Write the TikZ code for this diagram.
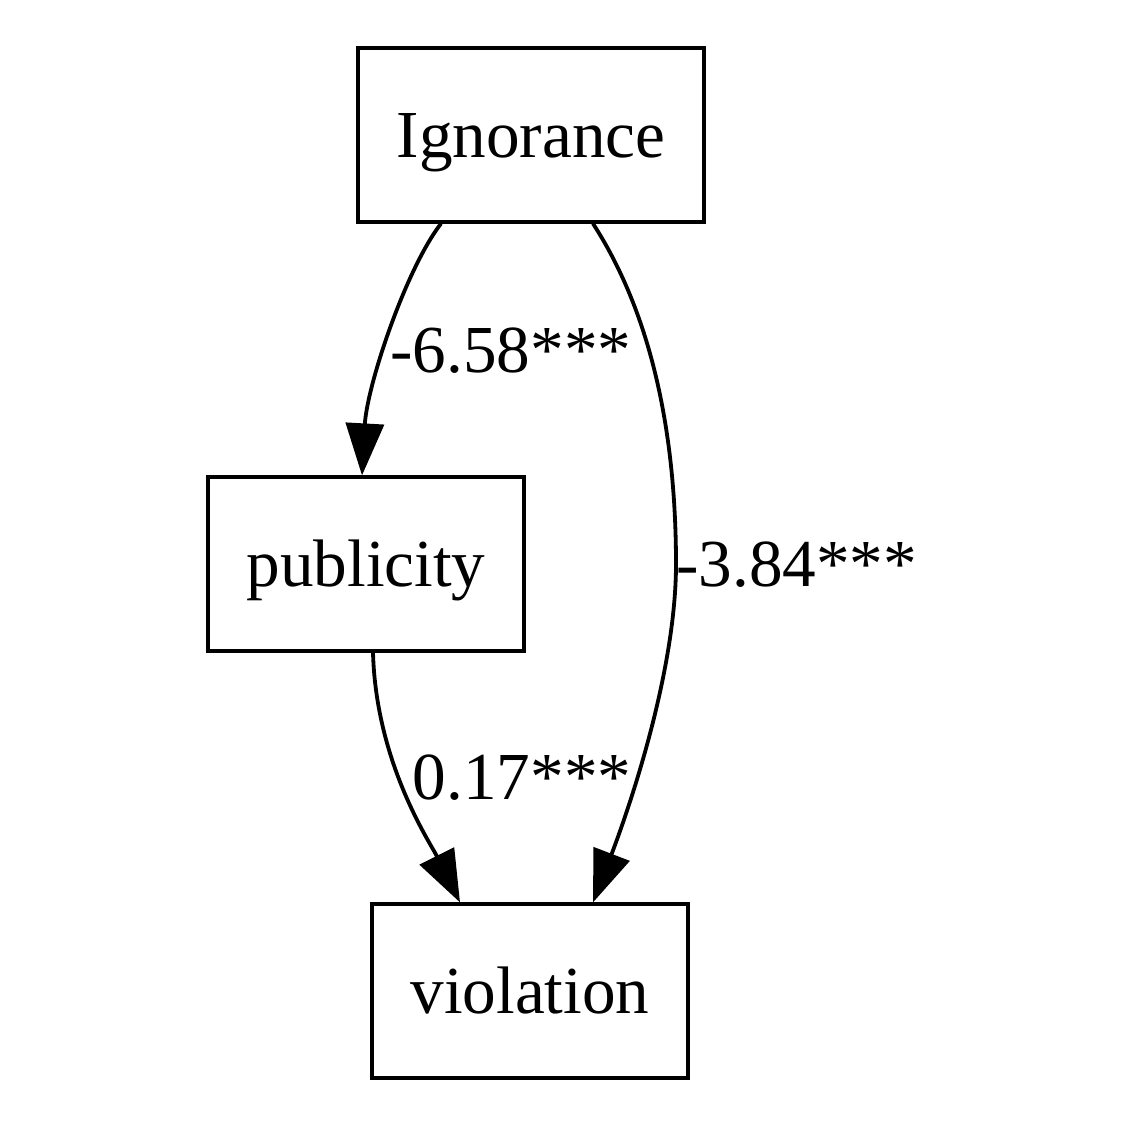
\documentclass[tikz,border=0pt]{standalone}
\usepackage{fontspec}
\setmainfont{Liberation Serif}
\usetikzlibrary{arrows.meta,calc}

\begin{document}
\begin{tikzpicture}[
    x=0.5pt, y=-0.5pt,
    every node/.style={font=\fontsize{33.6}{40}\selectfont, text height=22.3pt, text depth=0pt},
    box/.style={draw, line width=1.6pt, minimum width=173pt, minimum height=87pt, inner sep=0pt},
    edge/.style={line width=1.9pt, -{Triangle[length=26pt,width=19pt]}},
    lbl/.style={inner sep=0pt},
  ]
  \useasboundingbox (0,0) rectangle (1122,1124);

  \node[box] (ign) at (531,135) {Ignorance};
  \node[box, minimum width=158pt] (pub) at (366,564) {publicity};
  \node[box, minimum width=158pt] (vio) at (530,991) {violation};

  \node[lbl] (l1) at (511,350) {-6.58***};
  \node[lbl] (l2) at (522,777) {0.17***};
  \node[lbl, anchor=west] (l3) at (676,564) {-3.84***};

  \draw[edge] ($(ign.south)+(-90,0)$) .. controls +(-35,45) and +(5,-90) .. ($(pub.north)+(-4,0)$);
  \draw[edge] ($(pub.south)+(7,0)$) .. controls +(3,110) and +(-30,-60) .. ($(vio.north)+(-70,0)$);
  \draw[edge] ($(ign.south)+(62,0)$) .. controls +(55,85) and +(0,-140) .. (l3.west)
              .. controls +(0,120) and +(25,-65) .. ($(vio.north)+(63,0)$);
\end{tikzpicture}
\end{document}
